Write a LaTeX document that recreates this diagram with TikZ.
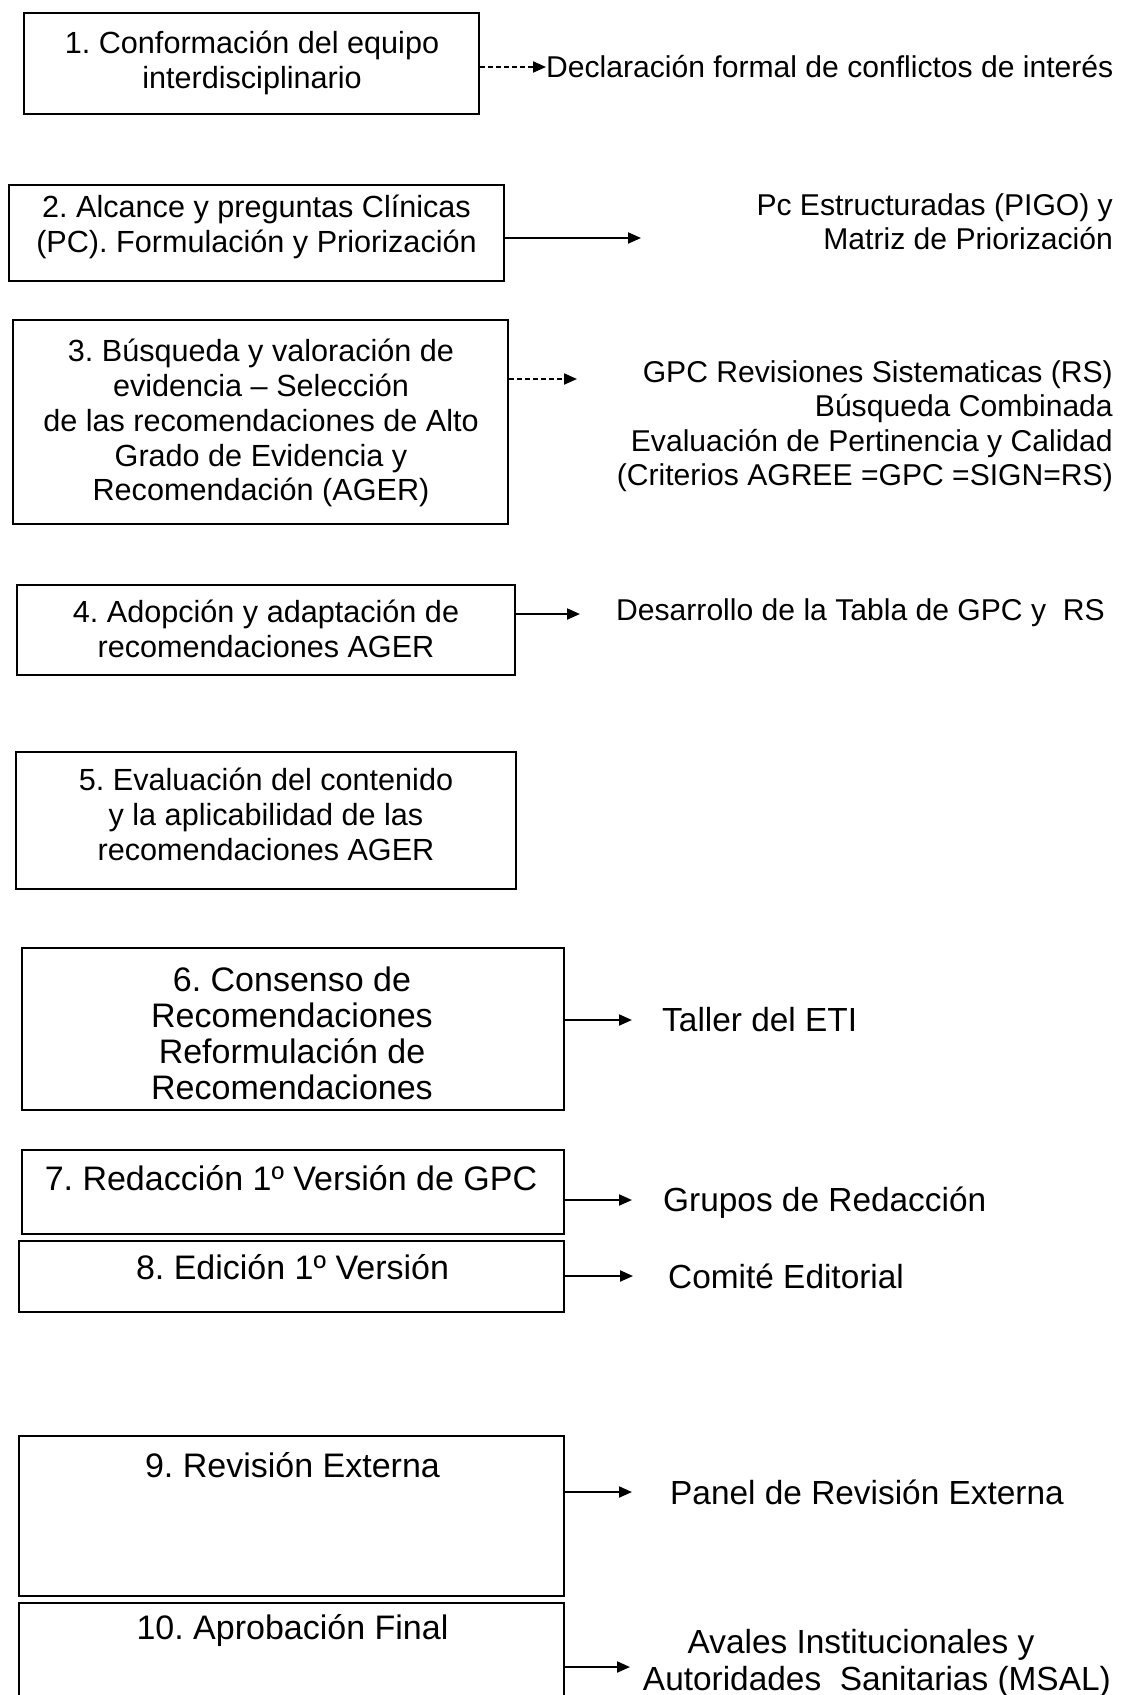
\documentclass[tikz,border=0pt]{standalone}
\usepackage{fontspec}
\setmainfont{Liberation Sans}
\usetikzlibrary{arrows.meta}
\frenchspacing
\begin{document}
\begin{tikzpicture}[x=1pt,y=1pt,
  stepbox/.style={draw=black,line width=2.2pt,rectangle,inner sep=0pt},
  boxtxt/.style={align=center,font=\fontsize{30.6}{34.8}\selectfont,inner sep=0pt,anchor=north},
  bigtxt/.style={boxtxt,font=\fontsize{34}{36}\selectfont},
  side/.style={font=\fontsize{30.1}{34.5}\selectfont,inner sep=0pt},
  bigside/.style={side,font=\fontsize{33.4}{36}\selectfont},
  conn/.style={line width=2pt,-{Triangle[length=13pt,width=11pt]}},
  dconn/.style={conn,dash pattern=on 5pt off 3pt}]
\useasboundingbox (0,0) rectangle (1121,-1695);
\clip (0,0) rectangle (1121,-1695);
% boxes
\node[stepbox,minimum width=455pt,minimum height=101pt] (b1) at (251.5,-63.5) {};
\node[stepbox,minimum width=495pt,minimum height=96pt] (b2) at (256.5,-233) {};
\node[stepbox,minimum width=495pt,minimum height=204pt] (b3) at (260.5,-422) {};
\node[stepbox,minimum width=498pt,minimum height=90pt] (b4) at (266,-630) {};
\node[stepbox,minimum width=500pt,minimum height=137pt] (b5) at (266,-820.5) {};
\node[stepbox,minimum width=542pt,minimum height=162pt] (b6) at (293,-1029) {};
\node[stepbox,minimum width=542pt,minimum height=84pt] (b7) at (293,-1192) {};
\node[stepbox,minimum width=545pt,minimum height=71pt] (b8) at (291.5,-1276.5) {};
\node[stepbox,minimum width=545pt,minimum height=160pt] (b9) at (291.5,-1516) {};
\node[stepbox,minimum width=545pt,minimum height=120pt] (b10) at (291.5,-1663) {};
% box texts
\node[boxtxt] (t1) at (252,-31) {1. Conformación del equipo\\interdisciplinario};
\node[boxtxt] (t2) at (256.5,-194.5) {2. Alcance y preguntas Clínicas\\(PC). Formulación y Priorización};
\node[boxtxt] (t3) at (261,-339) {3. Búsqueda y valoración de\\evidencia – Selección\\de las recomendaciones de Alto\\Grado de Evidencia y\\Recomendación (AGER)};
\node[boxtxt] (t4) at (266,-600) {4. Adopción y adaptación de\\recomendaciones AGER};
\node[boxtxt] (t5) at (266,-768) {5. Evaluación del contenido\\y la aplicabilidad de las\\recomendaciones AGER};
\node[bigtxt] (t6) at (292,-966.5) {6. Consenso de\\Recomendaciones\\Reformulación de\\Recomendaciones};
\node[bigtxt] (t7) at (291,-1165.5) {7. Redacción 1º Versión de GPC};
\node[bigtxt] (t8) at (292.5,-1254.5) {8. Edición 1º Versión};
\node[bigtxt] (t9) at (292.5,-1452.5) {9. Revisión Externa};
\node[bigtxt] (t10) at (292.5,-1614.5) {10. Aprobación Final};
% side labels
\node[side,anchor=west] (s1) at (546,-67) {Declaración formal de conflictos de interés};
\node[side,anchor=north east,align=right] (s2) at (1113,-193) {Pc Estructuradas (PIGO) y\\Matriz de Priorización};
\node[side,anchor=north east,align=right] (s3) at (1113,-360) {GPC Revisiones Sistematicas (RS)\\Búsqueda Combinada\\Evaluación de Pertinencia y Calidad\\(Criterios AGREE =GPC =SIGN=RS)};
\node[side,anchor=west] (s4) at (616,-613) {Desarrollo de la Tabla de GPC y \ RS};
\node[bigside,anchor=west] (s6) at (662,-1020) {Taller del ETI};
\node[bigside,anchor=west] (s7) at (663,-1203) {Grupos de Redacción};
\node[bigside,anchor=west] (s8) at (668,-1276) {Comité Editorial};
\node[bigside,anchor=west] (s9) at (670,-1492) {Panel de Revisión Externa};
\node[bigside,anchor=base] (s10a) at (861,-1653) {Avales Institucionales y};
\node[bigside,anchor=base east] (s10b) at (1111,-1690) {Autoridades \ Sanitarias (MSAL)};
% arrow end points
\coordinate (e1) at (546,-67);
\coordinate (e2) at (641,-238);
\coordinate (e3) at (577,-379);
\coordinate (e4) at (580,-614);
\coordinate (e6) at (632,-1020);
\coordinate (e7) at (632,-1200);
\coordinate (e8) at (633,-1276);
\coordinate (e9) at (632,-1492);
\coordinate (e10) at (630,-1667);
\draw[dconn] (b1.east |- e1) -- (e1);
\draw[conn] (b2.east |- e2) -- (e2);
\draw[dconn] (b3.east |- e3) -- (e3);
\draw[conn] (b4.east |- e4) -- (e4);
\draw[conn] (b6.east |- e6) -- (e6);
\draw[conn] (b7.east |- e7) -- (e7);
\draw[conn] (b8.east |- e8) -- (e8);
\draw[conn] (b9.east |- e9) -- (e9);
\draw[conn] (b10.east |- e10) -- (e10);
\end{tikzpicture}
\end{document}
